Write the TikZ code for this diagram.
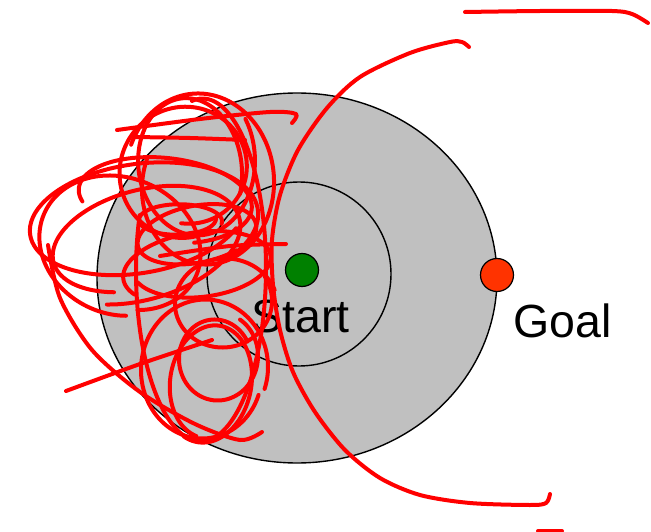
\documentclass[tikz,border=0pt]{standalone}
\usepackage{fontspec}
\setmainfont{Liberation Sans}
\definecolor{disk}{HTML}{C0C0C0}
\definecolor{startdot}{HTML}{008000}
\definecolor{goaldot}{HTML}{FF3300}
\definecolor{pen}{HTML}{FF0000}
\tikzset{
  ring/.style={draw=black,line width=1.4pt},
  dot/.style={circle,draw=black,line width=1.2pt,minimum size=33pt,inner sep=0pt},
  scrib/.style={draw=pen,line width=4pt,line cap=round,line join=round},
  label/.style={anchor=base,inner sep=0pt,font=\fontsize{46.5}{50}\selectfont}
}
% one wobbly loop of the scribble: centre, radii, tilt, angle range, drift
\newcommand\scribloop[9]{%
  \begin{scope}[shift={(#1,#2)},rotate=#5]
    \draw[scrib] plot[domain=#6:#7,samples=90,smooth,variable=\t]
      ({#3*cos(\t)+#8*\t/360},{#4*sin(\t)+#9*\t/360});
  \end{scope}}
\begin{document}
\begin{tikzpicture}[x=1pt,y=-1pt]
\useasboundingbox (0,0) rectangle (651,532);
% regions around the start
\draw[ring,fill=disk] (297,278) ellipse [x radius=200,y radius=185];
\draw[ring] (299,274) circle [radius=92];
% start and goal markers
\node[dot,fill=startdot] (start) at (302,270) {};
\node[dot,fill=goaldot] (goal) at (497,275) {};
\node[label] (startlbl) at (300.5,332) {Start};
\node[label] (goallbl) at (562.5,337) {Goal};
% the tangled walk near the start
\scribloop{188}{165}{70}{82}{0}{200}{560}{16}{14}
\scribloop{200}{160}{55}{72}{5}{-30}{380}{-14}{12}
\scribloop{178}{180}{62}{62}{15}{90}{470}{10}{-12}
\scribloop{135}{212}{112}{58}{8}{30}{400}{10}{14}
\scribloop{152}{232}{98}{52}{15}{120}{480}{-10}{10}
\scribloop{112}{248}{80}{66}{-25}{60}{420}{8}{-10}
\scribloop{176}{218}{40}{16}{0}{0}{370}{6}{3}
\scribloop{202}{230}{62}{30}{12}{60}{430}{-8}{6}
\scribloop{190}{272}{72}{34}{8}{150}{520}{10}{-6}
\scribloop{220}{357}{38}{42}{0}{-60}{330}{-6}{6}
\scribloop{200}{372}{62}{68}{0}{20}{380}{6}{-6}
\scribloop{215}{380}{42}{58}{-10}{100}{470}{-5}{5}
\scribloop{202}{270}{64}{170}{0}{-100}{200}{-4}{6}
\scribloop{222}{300}{50}{46}{0}{-30}{340}{6}{6}
\scribloop{160}{190}{85}{40}{-5}{160}{430}{8}{10}
% wide sweep under the tangle
\draw[scrib] plot[smooth] coordinates {(48,245) (60,298) (92,350) (140,392) (195,424) (240,440) (262,432)};
% straight-ish strokes through the tangle
\draw[scrib] plot[smooth] coordinates {(117,130) (200,119) (270,112) (296,114) (292,123)};
\draw[scrib] plot[smooth] coordinates {(133,137) (190,138) (245,140)};
\draw[scrib] plot[smooth] coordinates {(160,256) (230,246) (286,244)};
\draw[scrib] plot[smooth] coordinates {(66,391) (140,364) (212,340)};
% the long sweep past the start and the strokes on the right
\draw[scrib] plot[smooth] coordinates {(469,47) (462,42) (450,42) (410,53) (360,77) (327,108) (298,150) (280,195) (272,240) (273,285) (280,330) (293,372) (315,412) (345,450) (380,478) (420,495) (470,503) (530,505) (546,503) (550,494)};
\draw[scrib] plot[smooth] coordinates {(465,12) (540,11) (612,11) (632,14) (648,23)};
\draw[scrib] (538,531) -- (562,531);
\end{tikzpicture}
\end{document}
